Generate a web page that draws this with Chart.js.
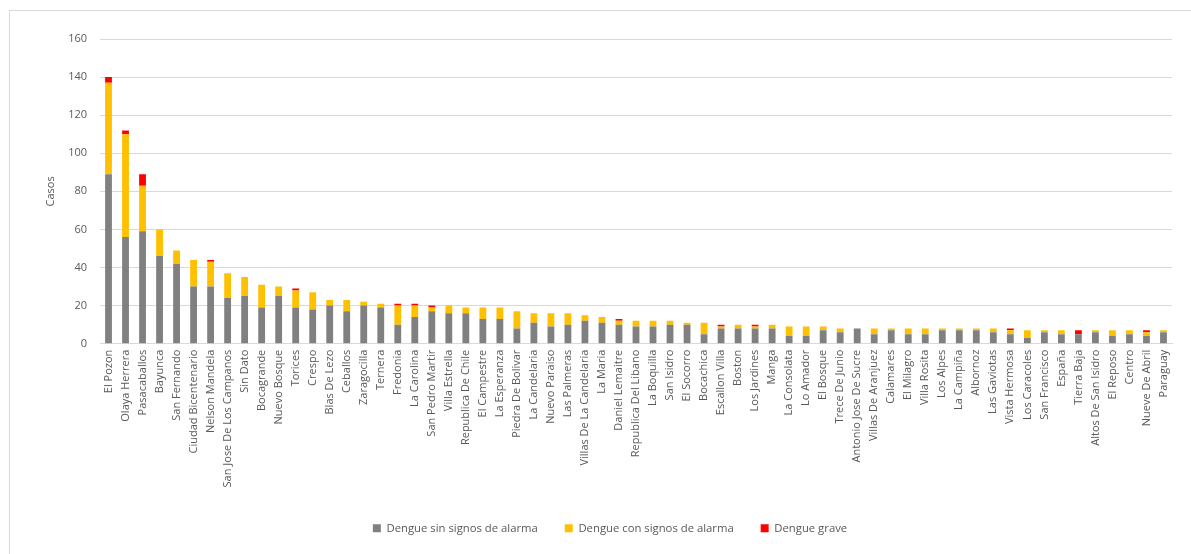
<!DOCTYPE html>
<html>
<head>
<meta charset="utf-8">
<script src="https://cdn.jsdelivr.net/npm/chart.js@4.4.0/dist/chart.umd.min.js"></script>
<style>
  html, body { margin: 0; padding: 0; background: #fff; }
  #wrap { position: relative; width: 1191px; height: 554px; }
</style>
</head>
<body>
<div id="wrap"><canvas id="myChart" width="1191" height="554"></canvas></div>
<script>
var barrios = ['El Pozon','Olaya Herrera','Pasacaballos','Bayunca','San Fernando','Ciudad Bicentenario',
  'Nelson Mandela','San Jose De Los Campanos','Sin Dato','Bocagrande','Nuevo Bosque','Torices','Crespo',
  'Blas De Lezo','Ceballos','Zaragocilla','Ternera','Fredonia','La Carolina','San Pedro Martir',
  'Villa Estrella','Republica De Chile','El Campestre','La Esperanza','Piedra De Bolivar','La Candelaria',
  'Nuevo Paraiso','Las Palmeras','Villas De La Candelaria','La Maria','Daniel Lemaitre','Republica Del Libano',
  'La Boquilla','San Isidro','El Socorro','Bocachica','Escallon Villa','Boston','Los Jardines','Manga',
  'La Consolata','Lo Amador','El Bosque','Trece De Junio','Antonio Jose De Sucre','Villas De Aranjuez',
  'Calamares','El Milagro','Villa Rosita','Los Alpes','La Campiña','Albornoz','Las Gaviotas',
  'Vista Hermosa','Los Caracoles','San Francisco','España','Tierra Baja','Altos De San Isidro',
  'El Reposo','Centro','Nueve De Abril','Paraguay'];

var sinSignos = [89,56,59,46,42,30,30,24,25,19,25,19,18,20,17,20,19,10,14,17,
  16,16,13,13,8,11,9,10,12,11,10,9,9,10,10,5,8,8,8,8,
  4,4,7,6,8,5,7,5,5,7,7,7,6,5,3,6,5,5,6,4,5,4,6];

var conSignos = [48,54,24,14,7,14,13,13,10,12,5,9,9,3,6,2,2,10,6,2,
  4,3,6,6,9,5,7,6,3,3,2,3,3,2,1,6,1,2,1,2,
  5,5,2,2,0,3,1,3,3,1,1,1,2,2,4,1,2,0,1,3,2,2,1];

var grave = [3,2,6,0,0,0,1,0,0,0,0,1,0,0,0,0,0,1,1,1,
  0,0,0,0,0,0,0,0,0,0,1,0,0,0,0,0,1,0,1,0,
  0,0,0,0,0,0,0,0,0,0,0,0,0,1,0,0,0,2,0,0,0,1,0];

var yTicks = [0,20,40,60,80,100,120,140,160];

var gris = '#d9d9d9';
var textoColor = '#595959';

// marco gris del area del grafico (como en Excel)
var marco = {
  id: 'marco',
  beforeDraw: function(chart) {
    var ctx = chart.ctx;
    ctx.save();
    ctx.fillStyle = '#fff';
    ctx.fillRect(0, 0, chart.width, chart.height);
    ctx.strokeStyle = gris;
    ctx.lineWidth = 1;
    ctx.strokeRect(9.5, 10.5, 1400, 800);
    ctx.restore();
  },
  afterLayout: function(chart) {
    // la leyenda del original esta algo corrida a la derecha
    chart.legend.left += 24;
    chart.legend.right += 24;
  }
};

var ctx = document.getElementById('myChart');

var chartdata = {
  labels: barrios,
  datasets: [
    { label: 'Dengue sin signos de alarma', backgroundColor: '#808080', data: sinSignos },
    { label: 'Dengue con signos de alarma', backgroundColor: '#FFC000', data: conSignos },
    { label: 'Dengue grave', backgroundColor: '#FF0000', data: grave }
  ]
};

var barGraph = new Chart(ctx, {
  type: 'bar',
  data: chartdata,
  plugins: [marco],
  options: {
    responsive: false,
    animation: false,
    devicePixelRatio: 1,
    layout: { padding: { left: 0, right: 19, top: 39, bottom: 10 } },
    datasets: { bar: { categoryPercentage: 1, barPercentage: 0.4 } },
    plugins: {
      tooltip: { enabled: false },
      legend: {
        position: 'bottom',
        labels: {
          boxWidth: 8, boxHeight: 8, padding: 27,
          color: textoColor,
          font: { family: 'Open Sans', size: 11.3 }
        }
      }
    },
    scales: {
      x: {
        stacked: true,
        afterFit: function(scale) { scale.height = 152; },
        grid: { display: false, drawTicks: false },
        border: { color: gris, width: 1 },
        ticks: {
          autoSkip: false, maxRotation: 90, minRotation: 90, padding: 6,
          color: textoColor,
          font: { family: 'Open Sans', size: 11 }
        }
      },
      y: {
        stacked: true,
        min: 0, max: 160,
        afterFit: function(scale) { scale.width = 100; },
        afterBuildTicks: function(scale) {
          scale.ticks = yTicks.map(function(v) { return { value: v }; });
        },
        grid: { color: gris, lineWidth: 1, drawTicks: false },
        border: { display: false },
        title: {
          display: true, text: 'Casos', color: textoColor,
          font: { family: 'Open Sans', size: 11 },
          padding: { top: 44, bottom: 0 }
        },
        ticks: {
          padding: 13,
          color: textoColor,
          font: { family: 'Open Sans', size: 11 }
        }
      }
    }
  }
});
</script>
</body>
</html>
